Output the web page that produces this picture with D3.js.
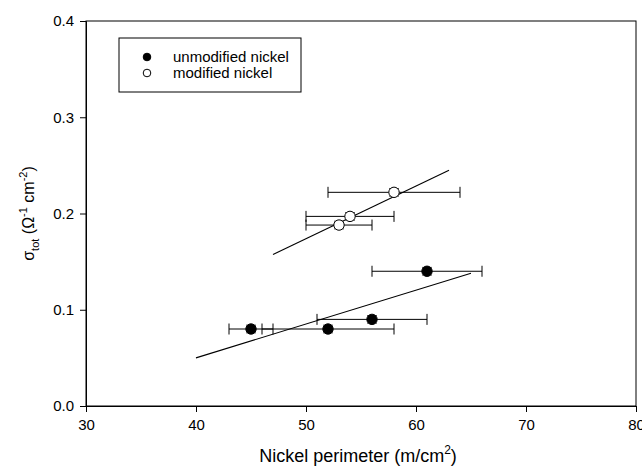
<!DOCTYPE html>
<html>
<head>
<meta charset="utf-8">
<script src="https://cdn.jsdelivr.net/npm/d3@7"></script>
<style>
  body { margin: 0; background: #fff; }
  svg { font-family: "Liberation Sans", Arial, sans-serif; }
  .axis path, .axis line { stroke: #000; }
  .axis text { font-size: 15px; fill: #000; }
</style>
</head>
<body>
<div id="chart"></div>
<script>
// Data
const unmodX = [45, 52, 56, 61];
const unmodY = [0.080, 0.080, 0.090, 0.140];
const unmodXErr = [2, 6, 5, 5];
const unmodYErr = [0.004, 0.004, 0.004, 0.004];

const modX = [53, 54, 58];
const modY = [0.188, 0.197, 0.222];
const modXErr = [3, 4, 6];
const modYErr = [0.004, 0.004, 0.004];

// regression lines (end points)
const fitUnmodX = [40, 65];
const fitUnmodY = [0.050, 0.138];
const fitModX = [47, 63];
const fitModY = [0.1575, 0.245];

const xTicks = [30, 40, 50, 60, 70, 80];
const yTicks = [0.0, 0.1, 0.2, 0.3, 0.4];

const seriesNames = ["unmodified nickel", "modified nickel"];

function drawChart() {
    const totalW = 642, totalH = 468;
    const margin = { top: 21, right: 6, bottom: 62, left: 86 };
    const width = totalW - margin.left - margin.right;
    const height = totalH - margin.top - margin.bottom;

    const svg = d3.select("#chart")
        .append("svg")
        .attr("width", totalW)
        .attr("height", totalH)
        .append("g")
        .attr("transform", `translate(${margin.left}, ${margin.top})`);

    const xScale = d3.scaleLinear().domain([30, 80]).range([0, width]);
    const yScale = d3.scaleLinear().domain([0, 0.4]).range([height, 0]);

    // frame (top + right)
    svg.append("rect")
        .attr("x", 0).attr("y", 0)
        .attr("width", width).attr("height", height)
        .attr("fill", "none")
        .attr("stroke", "#000");

    // axes
    svg.append("g")
        .attr("class", "axis x-axis")
        .attr("transform", `translate(0, ${height})`)
        .call(d3.axisBottom(xScale).tickValues(xTicks).tickFormat(d3.format("d"))
            .tickSizeOuter(0).tickSize(6).tickPadding(7));

    svg.append("g")
        .attr("class", "axis y-axis")
        .call(d3.axisLeft(yScale).tickValues(yTicks).tickFormat(d3.format(".1f"))
            .tickSizeOuter(0).tickSize(6).tickPadding(6));

    // fit lines
    const line = d3.line().x(d => xScale(d[0])).y(d => yScale(d[1]));
    [[fitUnmodX, fitUnmodY], [fitModX, fitModY]].forEach(([fx, fy]) => {
        svg.append("path")
            .datum(d3.zip(fx, fy))
            .attr("d", line)
            .attr("fill", "none")
            .attr("stroke", "#000")
            .attr("stroke-width", 1.1);
    });

    // error bars + points
    function drawSeries(xs, ys, xe, ye, filled) {
        const pts = xs.map((x, i) => ({ x, y: ys[i], xe: xe[i], ye: ye[i] }));
        const g = svg.append("g");
        const cap = 5.5;

        pts.forEach(d => {
            const cy = yScale(d.y);
            const x0 = xScale(d.x - d.xe), x1 = xScale(d.x + d.xe);
            g.append("line").attr("x1", x0).attr("x2", x1).attr("y1", cy).attr("y2", cy)
                .attr("stroke", "#000");
            [x0, x1].forEach(cx => {
                g.append("line").attr("x1", cx).attr("x2", cx)
                    .attr("y1", cy - cap).attr("y2", cy + cap)
                    .attr("stroke", "#000");
            });
            const y0 = yScale(d.y - d.ye), y1 = yScale(d.y + d.ye);
            [y0, y1].forEach(yy => {
                g.append("line").attr("x1", xScale(d.x) - 5).attr("x2", xScale(d.x) + 5)
                    .attr("y1", yy).attr("y2", yy)
                    .attr("stroke", "#555");
            });
        });

        g.selectAll("circle")
            .data(pts)
            .enter()
            .append("circle")
            .attr("cx", d => xScale(d.x))
            .attr("cy", d => yScale(d.y))
            .attr("r", 5.2)
            .attr("fill", filled ? "#000" : "#fff")
            .attr("stroke", "#000")
            .attr("stroke-width", 1);
    }

    drawSeries(unmodX, unmodY, unmodXErr, unmodYErr, true);
    drawSeries(modX, modY, modXErr, modYErr, false);

    // legend
    const legend = svg.append("g").attr("transform", "translate(33, 17)");
    legend.append("rect")
        .attr("width", 182).attr("height", 54)
        .attr("fill", "#fff").attr("stroke", "#000");
    seriesNames.forEach((name, i) => {
        legend.append("circle")
            .attr("cx", 28).attr("cy", 19 + i * 16)
            .attr("r", 3.8)
            .attr("fill", i === 0 ? "#000" : "#fff")
            .attr("stroke", "#000");
        legend.append("text")
            .attr("x", 54).attr("y", 24 + i * 16)
            .style("font-size", "15px")
            .text(name);
    });

    // x-axis label
    const xl = svg.append("text")
        .attr("x", width / 2 - 3)
        .attr("y", height + 56)
        .attr("text-anchor", "middle")
        .style("font-size", "18px");
    xl.append("tspan").text("Nickel perimeter (m/cm");
    xl.append("tspan").attr("dy", -8).style("font-size", "12px").text("2");
    xl.append("tspan").attr("dy", 8).text(")");

    // y-axis label
    const yl = svg.append("text")
        .attr("transform", "rotate(-90)")
        .attr("x", -height / 2)
        .attr("y", -52)
        .attr("text-anchor", "middle")
        .style("font-size", "16px");
    yl.append("tspan").text("σ");
    yl.append("tspan").attr("dy", 5).style("font-size", "11px").text("tot");
    yl.append("tspan").attr("dy", -5).text(" (Ω");
    yl.append("tspan").attr("dy", -7).style("font-size", "11px").text("-1");
    yl.append("tspan").attr("dy", 7).text(" cm");
    yl.append("tspan").attr("dy", -7).style("font-size", "11px").text("-2");
    yl.append("tspan").attr("dy", 7).text(")");
}

drawChart();
</script>
</body>
</html>
